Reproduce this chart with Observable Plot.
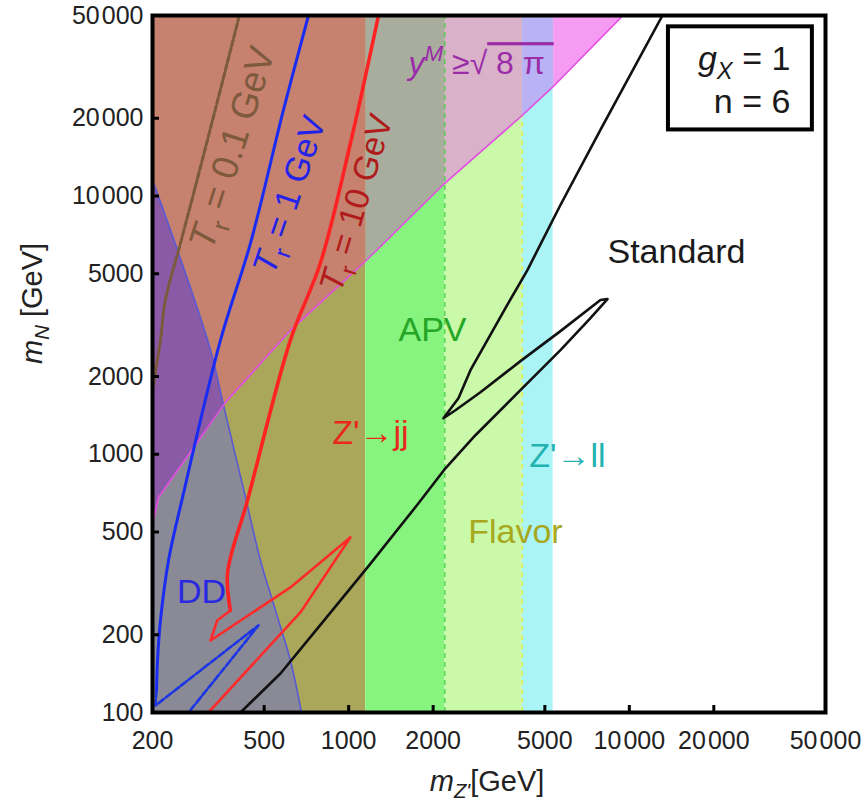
<!DOCTYPE html>
<html><head><meta charset="utf-8">
<script src="https://cdn.jsdelivr.net/npm/d3@7"></script>
<script src="https://cdn.jsdelivr.net/npm/@observablehq/plot@0.6"></script>
<style>body{margin:0;background:#fff} svg{display:block}</style>
</head><body><div id="chart"></div>
<script>
// ---------------- axes ----------------
const xDomain = [200, 50000];
const yDomain = [100, 50000];
const xTicks = [200, 500, 1000, 2000, 5000, 10000, 20000, 50000];
const xTickLabels = ["200", "500", "1000", "2000", "5000", "10\u200A000", "20\u200A000", "50\u200A000"];
const yTicks = [100, 200, 500, 1000, 2000, 5000, 10000, 20000, 50000];
const yTickLabels = ["100", "200", "500", "1000", "2000", "5000", "10\u200A000", "20\u200A000", "50\u200A000"];

// ---------------- vertical exclusion bands (m_Z' limits, GeV) ----------------
const bandNames = ["Z'→jj", "APV", "Flavor", "Z'→ll", "allowed"];
const bandLo = [200, 1150, 2200, 4150, 5350];
const bandHi = [1150, 2200, 4150, 5350, 50000];

// ---------------- y^M >= sqrt(8 pi) boundary ----------------
const yukX = [200, 210, 358, 370, 620, 1150, 2200, 4150, 5350, 6700, 9500];
const yukY = [530, 680, 1550, 1620, 3020, 5600, 11200, 20500, 26500, 34000, 50000];

// ---------------- DD boundary ----------------
const ddX = [200, 245.5, 322, 358, 429, 485, 548.6, 620, 679];
const ddY = [11535, 6174, 2530, 1550, 681, 388, 248.5, 159, 100];

// ---------------- T_r = 0.1 GeV ----------------
const tr01X = [408, 296.5, 251.7, 222.4, 213.5, 206.6, 201.6];
const tr01Y = [50000, 12953, 6574, 3954, 2767, 2213, 1851];

// ---------------- T_r = 1 GeV ----------------
const tr1X = [719, 585.7, 447, 349.4, 255.9, 228.1, 213.5, 208.4, 206.7];
const tr1Y = [50000, 21544, 6574, 2767, 681, 388, 227.3, 159, 121.7];
const tr1LoopX = [206.7, 205, 296.5, 477, 379, 268.8];
const tr1LoopY = [121.7, 106.4, 145.5, 217.4, 159, 100];

// ---------------- T_r = 10 GeV ----------------
const tr10X = [1277, 1015, 793, 620, 436, 370, 379];
const tr10Y = [50000, 16047, 5499, 2767, 663, 345.8, 248.5];
const tr10LoopX = [379, 340, 322, 620, 1015, 673, 316.6];
const tr10LoopY = [248.5, 227, 190, 305, 476.8, 244.1, 100];

// ---------------- Standard ----------------
const stdX = [411.7, 571.5, 749, 935, 1167, 1773, 2212, 2829, 4093, 5683, 7268, 8357,
              7889, 5683, 4093, 2948, 2401, 2176,
              2461, 2716, 3022, 3619, 4334, 5683, 7889, 13124];
const stdY = [100, 141.6, 202.4, 271.8, 364.8, 645.7, 882.6, 1185, 1771, 2530, 3366, 3990,
              3954, 2997, 2294, 1739, 1481, 1379,
              1648, 2117, 2598, 3681, 5168, 9228, 18025, 50000];

// ---------------- annotations ----------------
const labelText = ["Tr = 0.1 GeV", "Tr = 1 GeV", "Tr = 10 GeV", "yM ≥√ 8 π", "Standard", "APV", "Z'→jj", "Z'→ll", "Flavor", "DD"];
const labelX = [385, 617, 1066, 1634, 14720, 1989, 1196, 6019, 3929, 299];
const labelY = [15350, 10090, 9396, 32480, 6067, 3024, 1206, 982, 498.6, 291.8];
const labelAngle = [-72.5, -71.4, -73.5, 0, 0, 0, 0, 0, 0, 0];
const legendText = ["gX = 1", "n = 6"];
const legendX = [37480, 37480];
const legendY = [33800, 23000];
const legendBox = {x1: 13784, x2: 44900, y1: 18025, y2: 45190};

// ---------------- styles ----------------
const bandColor = ["#aaa65a", "#86f47e", "#c9f9a9", "#aaf4f6", "#ffffff"];
const overlayColor = ["#c7816f", "#a9ad9d", "#d9b1c9", "#b9b3f5", "#f59cf2"];
const labelColor = ["#7d5a3c", "#2222e8", "#b01c1c", "#9a2ca8", "#1a1a1a", "#26a626", "#e8281c", "#22b2b2", "#a8a820", "#2828e0"];
const labelSize = [37, 34, 34, 32, 34, 34, 34, 34, 34, 34];
const labelAnchor = ["middle", "middle", "middle", "start", "middle", "middle", "middle", "middle", "middle", "middle"];

const rich = {
  "Tr = 0.1 GeV": [["T", "i"], ["r", "sub"], [" = 0.1 GeV", ""]],
  "Tr = 1 GeV": [["T", "i"], ["r", "sub"], [" = 1 GeV", ""]],
  "Tr = 10 GeV": [["T", "i"], ["r", "sub"], [" = 10 GeV", ""]],
  "yM ≥√ 8 π": [["y", "i"], ["M", "i sup"], [" ≥√", ""], [" 8 π ", "ol"]],
  "gX = 1": [["g", "i"], ["X", "i sub"], [" = 1", ""]],
  "mN [GeV]": [["m", "i"], ["N", "i sub"], [" [GeV]", ""]],
  "mZ' [GeV]": [["m", "i"], ["Z'", "i sub"], ["[GeV]", ""]]
};

// ---------------- build tables ----------------
const pts = (xs, ys) => xs.map((x, i) => ({x, y: ys[i]}));
const bands = bandLo.map((lo, i) => ({name: bandNames[i], lo, hi: bandHi[i]}));
const yuk = pts(yukX, yukY);
const dd = pts(ddX, ddY);
const overlayPolys = bands.map(b => [
  ...yuk.filter(p => p.x >= b.lo && p.x <= b.hi),
  {x: b.hi, y: yDomain[1]}, {x: b.lo, y: yDomain[1]}
]);
const ddCross = ddX[3];
const ddUpper = [...dd.filter(p => p.x <= ddCross), ...yuk.filter(p => p.x <= ddCross).reverse()];
const ddLower = [...yuk.filter(p => p.x <= ddCross), ...dd.filter(p => p.x >= ddCross), {x: xDomain[0], y: yDomain[0]}];
const labels = labelText.map((t, i) => ({t, x: labelX[i], y: labelY[i]}));

const marks = [];
// base bands
bands.slice(0, 4).forEach((b, i) => marks.push(
  Plot.rect([b], {x1: "lo", x2: "hi", y1: () => yDomain[0], y2: () => yDomain[1], fill: bandColor[i]})
));
// yukawa overlays
overlayPolys.forEach((poly, i) => marks.push(
  Plot.line(poly, {x: "x", y: "y", fill: overlayColor[i], stroke: "none", curve: "linear"})
));
// DD region
marks.push(Plot.line(ddUpper, {x: "x", y: "y", fill: "#8b5aa6", stroke: "none"}));
marks.push(Plot.line(ddLower, {x: "x", y: "y", fill: "#8a8a96", stroke: "none"}));
// dashed band edges
marks.push(Plot.ruleX([bandLo[2]], {x: d => d, y1: () => yDomain[0], y2: () => yDomain[1], stroke: "#44cc44", strokeWidth: 1.6, strokeDasharray: "5,4", strokeOpacity: 0.8}));
marks.push(Plot.ruleX([bandLo[3]], {x: d => d, y1: () => yDomain[0], y2: () => yukY[7], stroke: "#e4ee50", strokeWidth: 1.6, strokeDasharray: "5,4"}));
// boundaries
marks.push(Plot.line(dd, {x: "x", y: "y", stroke: "#5a5ad4", strokeWidth: 1.6, curve: "catmull-rom", clip: true}));
marks.push(Plot.line(yuk, {x: "x", y: "y", stroke: "#e24ee2", strokeWidth: 1.6, clip: true}));
// T_r curves
marks.push(Plot.line(pts(tr01X, tr01Y), {x: "x", y: "y", stroke: "#7a5a3a", strokeWidth: 3, strokeDasharray: "6,2.5", curve: "catmull-rom", clip: true}));
marks.push(Plot.line(pts(tr1X, tr1Y), {x: "x", y: "y", stroke: "#1a2cf2", strokeWidth: 3, curve: "catmull-rom", clip: true}));
marks.push(Plot.line(pts(tr1LoopX, tr1LoopY), {x: "x", y: "y", stroke: "#1a34e6", strokeWidth: 2.6, strokeDasharray: "7,2.5", clip: true}));
marks.push(Plot.line(pts(tr10X, tr10Y), {x: "x", y: "y", stroke: "#ff2222", strokeWidth: 3.6, curve: "catmull-rom", clip: true}));
marks.push(Plot.line(pts(tr10LoopX, tr10LoopY), {x: "x", y: "y", stroke: "#ff2a2a", strokeWidth: 2.6, clip: true}));
// Standard
marks.push(Plot.line(pts(stdX, stdY), {x: "x", y: "y", stroke: "#111", strokeWidth: 2.6, clip: true}));
// labels
labels.forEach((l, i) => marks.push(
  Plot.text([l], {x: "x", y: "y", text: "t", fill: labelColor[i], fontSize: labelSize[i],
    rotate: labelAngle[i], textAnchor: labelAnchor[i], lineAnchor: "middle"})
));
// legend box
marks.push(Plot.rect([legendBox], {x1: "x1", x2: "x2", y1: "y1", y2: "y2", fill: "white", stroke: "black", strokeWidth: 4}));
marks.push(Plot.text(legendText.map((t, i) => ({t, x: legendX[i], y: legendY[i]})),
  {x: "x", y: "y", text: "t", textAnchor: "end", lineAnchor: "middle", fontSize: 34, fill: "#1a1a1a"}));
// ticks (inward)
marks.push(Plot.ruleX(xTicks, {x: d => d, y1: () => yDomain[0], y2: () => yDomain[0], insetBottom: 7, stroke: "black", strokeWidth: 3}));
marks.push(Plot.ruleY(yTicks, {y: d => d, x1: () => xDomain[0], x2: () => xDomain[0], insetRight: -7, stroke: "black", strokeWidth: 3}));
// tick labels
marks.push(Plot.text(xTicks, {x: d => d, text: (d, i) => xTickLabels[i], frameAnchor: "bottom", lineAnchor: "middle", dy: 28, fontSize: 25, fill: "#222"}));
marks.push(Plot.text(yTicks, {y: d => d, text: (d, i) => yTickLabels[i], frameAnchor: "left", textAnchor: "end", lineAnchor: "middle", dx: -9, fontSize: 25, fill: "#222"}));
// axis titles
marks.push(Plot.text(["mN [GeV]"], {text: d => d, frameAnchor: "left", rotate: -90, dx: -120, lineAnchor: "middle", fontSize: 29, fill: "#222"}));
marks.push(Plot.text(["mZ' [GeV]"], {text: d => d, frameAnchor: "bottom", dx: -2, dy: 69, lineAnchor: "middle", fontSize: 29, fill: "#222"}));
// frame
marks.push(Plot.frame({stroke: "black", strokeWidth: 4}));

const chart = Plot.plot({
  width: 868, height: 802,
  marginLeft: 152, marginRight: 43, marginTop: 15, marginBottom: 90,
  x: {type: "log", domain: xDomain, axis: null},
  y: {type: "log", domain: yDomain, axis: null},
  style: {fontFamily: "'Liberation Sans', Arial, sans-serif", background: "white", overflow: "visible"},
  marks
});
document.getElementById("chart").appendChild(chart);

// rich text (italics, sub/superscripts, radical bar)
chart.querySelectorAll("text").forEach(t => {
  const segs = rich[t.textContent];
  if (!segs) return;
  const fs = parseFloat(getComputedStyle(t).fontSize) || 26;
  t.textContent = "";
  let shift = 0;
  for (const [s, st] of segs) {
    const flags = st.split(" ");
    const ts = document.createElementNS("http://www.w3.org/2000/svg", "tspan");
    ts.textContent = s;
    let target = 0;
    if (flags.includes("sub")) { target = 0.26 * fs; ts.setAttribute("font-size", 0.7 * fs); }
    if (flags.includes("sup")) { target = -0.42 * fs; ts.setAttribute("font-size", 0.7 * fs); }
    if (flags.includes("i")) ts.setAttribute("font-style", "italic");
    if (flags.includes("ol")) ts.setAttribute("text-decoration", "overline");
    const dy = target - shift;
    if (dy) ts.setAttribute("dy", dy);
    shift = target;
    t.appendChild(ts);
  }
});
</script>
</body></html>
